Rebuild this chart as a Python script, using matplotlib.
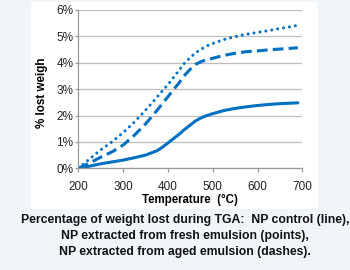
import matplotlib
matplotlib.use("Agg")
import matplotlib.pyplot as plt
from matplotlib.patches import Rectangle
from matplotlib.ticker import FuncFormatter

temps = [200, 225, 250, 275, 300, 325, 350, 375, 387, 400, 412, 425, 437, 450, 462, 475,
         487, 500, 525, 550, 575, 600, 625, 650, 675, 690]
np_control = [0.00, 0.08, 0.17, 0.24, 0.31, 0.40, 0.50, 0.66, 0.79, 0.96, 1.12, 1.29, 1.47,
              1.64, 1.80, 1.92, 2.00, 2.07, 2.19, 2.27, 2.33, 2.38, 2.42, 2.45, 2.47, 2.48]
np_fresh = [0.00, 0.35, 0.70, 1.00, 1.35, 1.75, 2.20, 2.68, 2.92, 3.17, 3.43, 3.72, 3.98,
            4.20, 4.38, 4.52, 4.64, 4.73, 4.88, 4.99, 5.08, 5.15, 5.22, 5.30, 5.37, 5.42]
np_aged = [0.00, 0.20, 0.42, 0.62, 0.88, 1.25, 1.68, 2.18, 2.44, 2.71, 2.97, 3.24, 3.52,
           3.76, 3.94, 4.05, 4.12, 4.17, 4.28, 4.36, 4.42, 4.45, 4.49, 4.52, 4.55, 4.57]
x_ticks = [200, 300, 400, 500, 600, 700]
y_ticks = [0, 1, 2, 3, 4, 5, 6]
caption = ["Percentage of weight lost during TGA:  NP control (line),",
           "NP extracted from fresh emulsion (points),",
           "NP extracted from aged emulsion (dashes)."]

plt.rcParams['font.family'] = ['Liberation Sans', 'DejaVu Sans']

W, H = 350, 270
fig = plt.figure(figsize=(W / 100, H / 100), dpi=100)
fig.patch.set_facecolor('#eff5f9')
bg = Rectangle((31 / W, 1 - 209 / H), (318 - 31) / W, (209 - 2) / H,
               transform=fig.transFigure, facecolor='white', edgecolor='none', zorder=-5)
fig.patches.append(bg)

ax = fig.add_axes([78.3 / W, 1 - 168.3 / H, (302.3 - 78.3) / W, (168.3 - 10) / H])
ax.set_zorder(2)
ax.set_facecolor('none')
blue = '#0070c0'
lw = 2.2
ax.plot(temps, np_control, color=blue, lw=lw, solid_capstyle='round')
ax.plot(temps, np_fresh, color=blue, lw=lw, linestyle=(0, (0.01, 1.95)),
        dash_capstyle='round')
ax.plot(temps, np_aged, color=blue, lw=lw, linestyle=(0, (3.5, 1.7)),
        dash_capstyle='butt')

ax.set_xlim(200, 700)
ax.set_ylim(0, 6)
ax.set_xticks(x_ticks)
ax.set_yticks(y_ticks)
ax.yaxis.set_major_formatter(FuncFormatter(lambda v, p: f"{int(v)}%"))
ax.grid(axis='y', color='#bdbdbd', lw=0.9)
ax.set_axisbelow(True)
for s in ['top', 'right']:
    ax.spines[s].set_visible(False)
for s in ['left', 'bottom']:
    ax.spines[s].set_color('#999999')
    ax.spines[s].set_linewidth(0.9)
ax.tick_params(axis='both', direction='out', width=0.9, color='#999999',
               labelsize=8.5, labelcolor='#222222')
ax.tick_params(axis='x', length=3, pad=6)
ax.tick_params(axis='y', length=2, pad=1.5)
ax.set_xlabel('Temperature  (°C)', fontsize=8.3, fontweight='bold', labelpad=1)
ax.set_ylabel('% lost weigh', fontsize=8.4, fontweight='bold')
ax.yaxis.set_label_coords((48.3 - 78.3) / 224, (168.3 - 93) / 158.3)

ys = [220, 236, 251.5]
for t, y in zip(caption, ys):
    fig.text(185 / W, 1 - y / H, t, ha='center', va='center', fontsize=8.8,
             fontweight='bold', color='#111111')

fig.savefig('out.png', dpi=100, facecolor=fig.get_facecolor())
